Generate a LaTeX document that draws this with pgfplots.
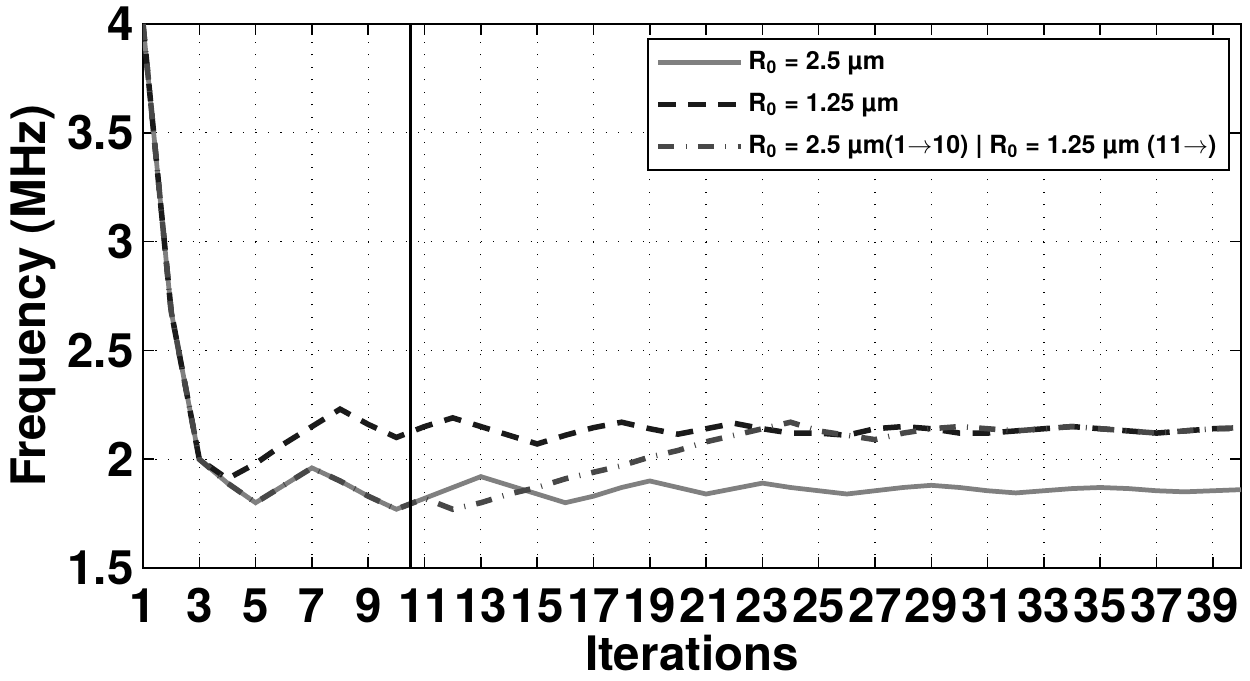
\documentclass[border=0pt]{standalone}
\usepackage{fontspec}
\setmainfont{TeX Gyre Heros}
\usepackage{pgfplots}
\usepackage{pgfplotstable}
\pgfplotsset{compat=1.18}

\definecolor{lgray}{RGB}{128,128,128}
\definecolor{dblack}{RGB}{26,26,26}
\definecolor{dgray}{RGB}{72,72,72}

% iteration, R0=2.5um, R0=1.25um, switched at 10
\pgfplotstableread{
it  a      b      c
1   4.00   4.00   4.00
2   2.68   2.68   2.68
3   2.00   2.00   2.00
4   1.89   1.91   1.89
5   1.80   1.98   1.80
6   1.88   2.07   1.88
7   1.96   2.15   1.96
8   1.90   2.23   1.90
9   1.83   2.16   1.83
10  1.77   2.10   1.77
11  1.82   2.15   1.82
12  1.87   2.19   1.77
13  1.92   2.15   1.80
14  1.88   2.11   1.84
15  1.84   2.07   1.87
16  1.80   2.11   1.91
17  1.83   2.145  1.94
18  1.87   2.17   1.97
19  1.90   2.14   2.01
20  1.87   2.115  2.04
21  1.84   2.14   2.08
22  1.865  2.165  2.11
23  1.89   2.14   2.14
24  1.87   2.12   2.17
25  1.855  2.12   2.13
26  1.84   2.11   2.11
27  1.855  2.14   2.09
28  1.87   2.15   2.12
29  1.88   2.14   2.14
30  1.87   2.12   2.15
31  1.855  2.12   2.14
32  1.845  2.13   2.13
33  1.855  2.14   2.14
34  1.865  2.15   2.15
35  1.87   2.14   2.14
36  1.865  2.13   2.13
37  1.855  2.12   2.12
38  1.85   2.13   2.13
39  1.855  2.14   2.14
40  1.86   2.14   2.145
}\freq

\begin{document}
\begin{tikzpicture}
\begin{axis}[
    scale only axis,
    width=439.2pt, height=217.6pt,
    xmin=1, xmax=40,
    ymin=1.5, ymax=4,
    xtick={1,3,...,39},
    ytick={1.5,2,...,4},
    yticklabels={1.5,2,2.5,3,3.5,4},
    axis line style={line width=0.8pt},
    major tick style={line width=0.6pt, black},
    major tick length=4.5pt,
    tick align=inside,
    xmajorgrids, ymajorgrids,
    grid style={black, line width=0.5pt, dash pattern=on 0.5pt off 4.5pt},
    /pgf/number format/assume math mode=true,
    tick label style={font=\fontsize{19}{22}\selectfont\bfseries},
    xticklabel style={anchor=base, yshift=-21.6pt, inner sep=0pt},
    yticklabel style={inner sep=0pt, xshift=-3.6pt},
    xlabel={Iterations},
    ylabel={Frequency (MHz)},
    every axis x label/.style={at={(axis description cs:0.5,-0.1875)}, anchor=base,
        font=\fontsize{19}{22}\selectfont\bfseries},
    every axis y label/.style={at={(axis description cs:-0.1,0.5)}, rotate=90, anchor=center,
        font=\fontsize{19}{22}\selectfont\bfseries},
    legend cell align=left,
    legend style={at={(1,1)}, anchor=north east, xshift=-4.4pt, yshift=-5.6pt,
        draw=black, line width=0.8pt, inner sep=3pt,
        font=\fontsize{10}{12}\selectfont\bfseries, row sep=4pt},
    legend image code/.code={\draw[#1] (0pt,0pt) -- (33pt,0pt);},
]
\addplot[lgray, line width=1.9pt] table[x=it, y=a] {\freq};
\addlegendentry{R\textsubscript{0} = 2.5 µm}
\addplot[dblack, line width=2.2pt, dash pattern=on 7pt off 5pt] table[x=it, y=b] {\freq};
\addlegendentry{R\textsubscript{0} = 1.25 µm}
\addplot[dgray, line width=2.2pt, dash pattern=on 6.5pt off 4.5pt on 0.4pt off 4.5pt] table[x=it, y=c] {\freq};
\addlegendentry{R\textsubscript{0} = 2.5 µm(1$\rightarrow$10) | R\textsubscript{0} = 1.25 µm (11$\rightarrow$)}
\addplot[black, line width=1pt, forget plot] coordinates {(10.5,1.5) (10.5,4)};
\end{axis}
\pgfresetboundingbox
\useasboundingbox (current axis.south west) ++(-57.2pt,-45.2pt) rectangle ++(500pt,272.4pt);
\end{tikzpicture}
\end{document}
